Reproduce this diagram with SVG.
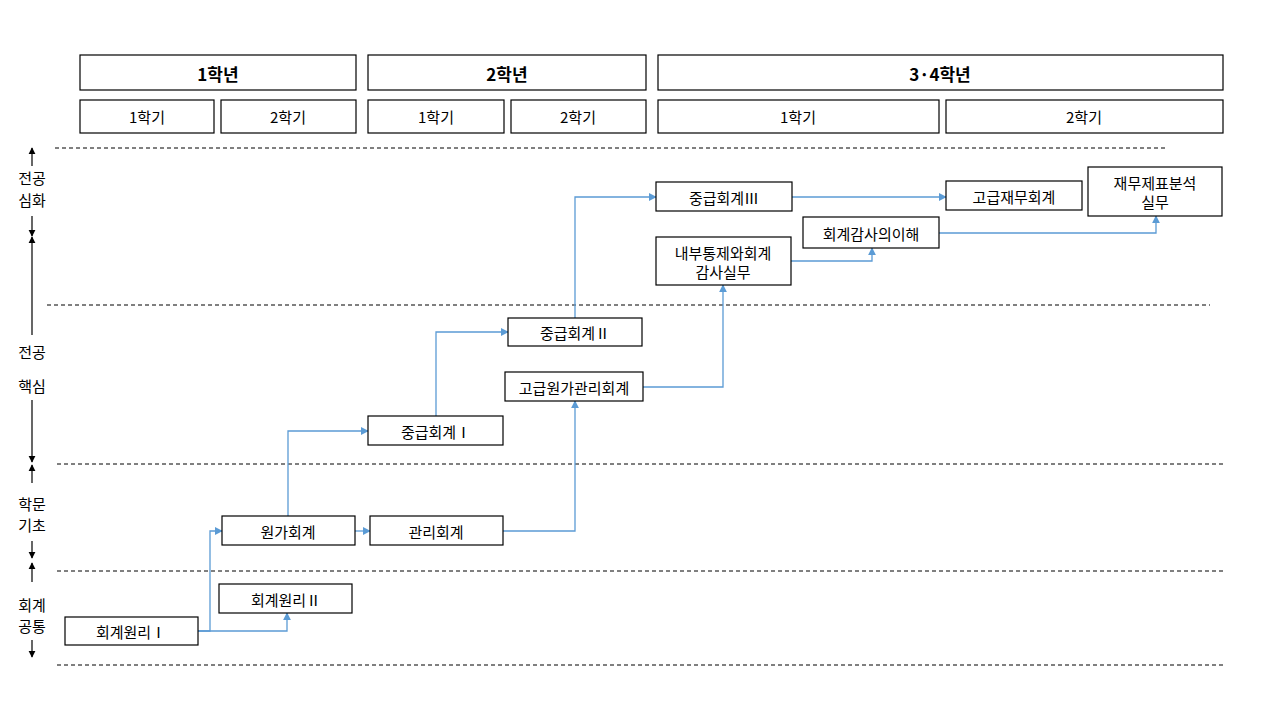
<svg xmlns="http://www.w3.org/2000/svg" width="1280" height="720" viewBox="0 0 1280 720">
<style>
text{font-family:"Noto Sans CJK KR","Noto Sans",sans-serif;font-size:15px;fill:#000;text-anchor:middle;dominant-baseline:central}
.h{font-weight:bold;font-size:17px}
.b{fill:#fff;stroke:#000;stroke-width:1.2}
.d{stroke:#000;stroke-width:1;stroke-dasharray:4 3;fill:none}
.c{fill:none;stroke:#5b9bd5;stroke-width:1.3;marker-end:url(#a)}
.k{stroke:#000;stroke-width:1.2;fill:none;marker-end:url(#k)}
</style>
<defs>
<marker id="a" viewBox="0 0 10 10" refX="9" refY="5" markerWidth="6" markerHeight="6" orient="auto"><path d="M0,0L10,5L0,10z" fill="#5b9bd5"/></marker>
<marker id="k" viewBox="0 0 10 10" refX="9" refY="5" markerWidth="6" markerHeight="6" orient="auto"><path d="M0,0L10,5L0,10z" fill="#000"/></marker>
</defs>
<rect width="1280" height="720" fill="#fff"/>
<g id="header">
<rect class="b" x="80" y="55" width="276" height="35"/><text class="h" x="218" y="73">1학년</text>
<rect class="b" x="368" y="55" width="278" height="35"/><text class="h" x="507" y="73">2학년</text>
<rect class="b" x="658" y="55" width="565" height="35"/><text class="h" x="940" y="73">3·4학년</text>
<rect class="b" x="80" y="100" width="134" height="33"/><text x="147" y="116">1학기</text>
<rect class="b" x="221" y="100" width="135" height="33"/><text x="288" y="116">2학기</text>
<rect class="b" x="368" y="100" width="136" height="33"/><text x="436" y="116">1학기</text>
<rect class="b" x="511" y="100" width="135" height="33"/><text x="578" y="116">2학기</text>
<rect class="b" x="658" y="100" width="281" height="33"/><text x="798" y="116">1학기</text>
<rect class="b" x="946" y="100" width="277" height="33"/><text x="1084" y="116">2학기</text>
</g>
<g id="dividers">
<line class="d" x1="55" y1="148" x2="1165" y2="148"/>
<line class="d" x1="47" y1="305" x2="1210" y2="305"/>
<line class="d" x1="57" y1="464" x2="1225" y2="464"/>
<line class="d" x1="57" y1="571" x2="1225" y2="571"/>
<line class="d" x1="57" y1="665" x2="1225" y2="665"/>
</g>
<g id="levels">
<line class="k" x1="32" y1="166" x2="32" y2="148"/><text x="32" y="177">전공</text><text x="32" y="199">심화</text><line class="k" x1="32" y1="216" x2="32" y2="236"/>
<line class="k" x1="32" y1="335" x2="32" y2="237"/><text x="32" y="351">전공</text><text x="32" y="385">핵심</text><line class="k" x1="32" y1="400" x2="32" y2="462"/>
<line class="k" x1="32" y1="483" x2="32" y2="465"/><text x="32" y="503">학문</text><text x="32" y="524">기초</text><line class="k" x1="32" y1="541" x2="32" y2="558"/>
<line class="k" x1="32" y1="582" x2="32" y2="563"/><text x="32" y="604">회계</text><text x="32" y="625">공통</text><line class="k" x1="32" y1="640" x2="32" y2="657"/>
</g>
<g id="connectors">
<path class="c" d="M198,631H210V531H222"/>
<path class="c" d="M198,631H287V613"/>
<path class="c" d="M288,516V431H368"/>
<path class="c" d="M355,531H370"/>
<path class="c" d="M503,531H575V401"/>
<path class="c" d="M436,416V332H508"/>
<path class="c" d="M575,318V197H656"/>
<path class="c" d="M643,387H723V285"/>
<path class="c" d="M792,197H946"/>
<path class="c" d="M791,261H872V248"/>
<path class="c" d="M939,233H1156V216"/>
</g>
<g id="n1"><rect class="b" x="65" y="617" width="133" height="28"/><text x="131" y="631">회계원리Ⅰ</text></g>
<g id="n2"><rect class="b" x="219" y="584" width="133" height="29"/><text x="286" y="599">회계원리Ⅱ</text></g>
<g id="n3"><rect class="b" x="222" y="516" width="133" height="29"/><text x="288" y="531">원가회계</text></g>
<g id="n4"><rect class="b" x="370" y="516" width="133" height="29"/><text x="436" y="531">관리회계</text></g>
<g id="n5"><rect class="b" x="368" y="416" width="135" height="29"/><text x="436" y="431">중급회계Ⅰ</text></g>
<g id="n6"><rect class="b" x="505" y="372" width="138" height="29"/><text x="574" y="387">고급원가관리회계</text></g>
<g id="n7"><rect class="b" x="508" y="318" width="134" height="28"/><text x="575" y="332">중급회계Ⅱ</text></g>
<g id="n8"><rect class="b" x="656" y="237" width="135" height="48"/><text x="723" y="252">내부통제와회계</text><text x="723" y="271">감사실무</text></g>
<g id="n9"><rect class="b" x="656" y="182" width="136" height="29"/><text x="724" y="197">중급회계Ⅲ</text></g>
<g id="n10"><rect class="b" x="803" y="217" width="136" height="31"/><text x="871" y="233">회계감사의이해</text></g>
<g id="n11"><rect class="b" x="946" y="181" width="136" height="29"/><text x="1014" y="196">고급재무회계</text></g>
<g id="n12"><rect class="b" x="1088" y="167" width="134" height="49"/><text x="1155" y="182">재무제표분석</text><text x="1155" y="201">실무</text></g>
</svg>
